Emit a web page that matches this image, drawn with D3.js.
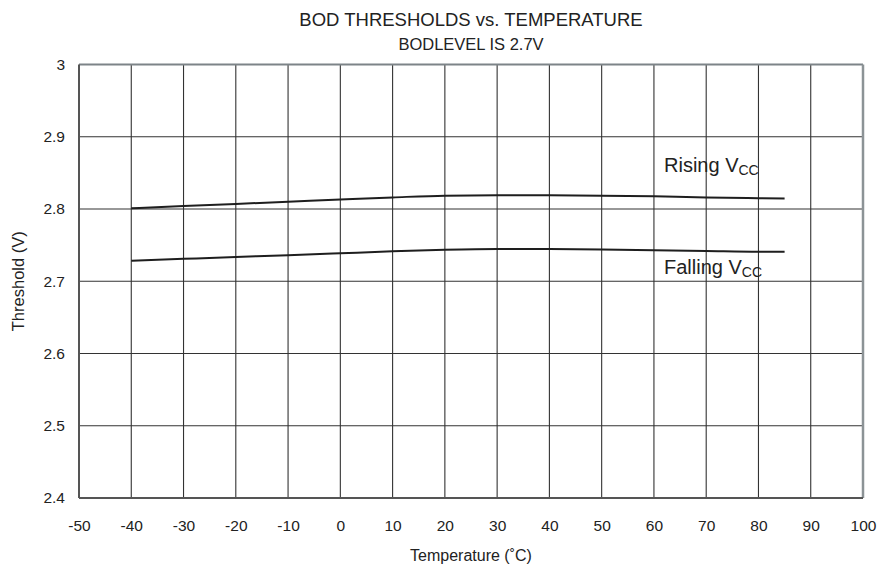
<!DOCTYPE html>
<html>
<head>
<meta charset="utf-8">
<script src="https://cdn.jsdelivr.net/npm/d3@7"></script>
<style>
  body { margin: 0; background: #fff; }
  text { font-family: "Liberation Sans", Arial, sans-serif; fill: #222; }
</style>
</head>
<body>
<div id="chart"></div>
<script>
/////////////////////////////////////
//////////////// Data ///////////////
/////////////////////////////////////

var temps = [-40, -30, -20, -10, 0, 10, 20, 30, 40, 50, 60, 70, 80, 85];
var rising = [2.801, 2.804, 2.807, 2.810, 2.813, 2.816, 2.8185, 2.819, 2.819, 2.8185, 2.8175, 2.816, 2.815, 2.8147];
var falling = [2.7285, 2.731, 2.7336, 2.736, 2.7387, 2.7415, 2.7435, 2.7445, 2.7445, 2.744, 2.743, 2.742, 2.741, 2.741];
var xTicks = [-50, -40, -30, -20, -10, 0, 10, 20, 30, 40, 50, 60, 70, 80, 90, 100];
var yTicks = [2.4, 2.5, 2.6, 2.7, 2.8, 2.9, 3];

var margin = {top: 64.5, right: 22, bottom: 71, left: 79},
    width = 885 - margin.left - margin.right,
    height = 569 - margin.top - margin.bottom;

var svg = d3.select("#chart")
    .append("svg")
      .attr("width", 885)
      .attr("height", 569)
    .append("g")
      .attr("transform", "translate(" + margin.left + "," + margin.top + ")");

var x = d3.scaleLinear().domain([-50, 100]).range([0, width]);
var y = d3.scaleLinear().domain([2.4, 3]).range([height, 0]);

// grid
svg.selectAll("vgrid")
    .data(xTicks.slice(1, -1))
    .enter()
    .append("line")
      .attr("x1", function(d) { return x(d); })
      .attr("x2", function(d) { return x(d); })
      .attr("y1", 0)
      .attr("y2", height)
      .attr("stroke", "#333")
      .attr("stroke-width", 1.1);

svg.selectAll("hgrid")
    .data(yTicks.slice(1, -1))
    .enter()
    .append("line")
      .attr("x1", 0)
      .attr("x2", width)
      .attr("y1", function(d) { return y(d); })
      .attr("y2", function(d) { return y(d); })
      .attr("stroke", "#333")
      .attr("stroke-width", 1.1);

// frame
svg.append("line").attr("x1", 0).attr("x2", width).attr("y1", 0).attr("y2", 0)
    .attr("stroke", "#7d8488").attr("stroke-width", 2);
svg.append("line").attr("x1", width).attr("x2", width).attr("y1", 0).attr("y2", height)
    .attr("stroke", "#8c9396").attr("stroke-width", 2.5);
svg.append("line").attr("x1", 0).attr("x2", 0).attr("y1", 0).attr("y2", height)
    .attr("stroke", "#555").attr("stroke-width", 2);
svg.append("line").attr("x1", 0).attr("x2", width).attr("y1", height).attr("y2", height)
    .attr("stroke", "#555").attr("stroke-width", 2);

// axes (labels only)
svg.append("g")
    .attr("transform", "translate(0," + height + ")")
    .call(d3.axisBottom(x).tickValues(xTicks).tickSize(0).tickPadding(22)
        .tickFormat(function(d) { return String(d); }))
    .call(function(g) { g.select(".domain").remove(); })
    .selectAll("text")
      .style("font-size", "15.5px")
      .style("font-family", "'Liberation Sans', Arial, sans-serif")
      .attr("fill", "#222");

svg.append("g")
    .call(d3.axisLeft(y).tickValues(yTicks).tickSize(0).tickPadding(14)
        .tickFormat(function(d) { return String(+d.toFixed(1)); }))
    .call(function(g) { g.select(".domain").remove(); })
    .selectAll("text")
      .style("font-size", "15.5px")
      .style("font-family", "'Liberation Sans', Arial, sans-serif")
      .attr("fill", "#222");

// curves
var line = d3.line()
    .x(function(d, i) { return x(temps[i]); })
    .y(function(d) { return y(d); })
    .curve(d3.curveMonotoneX);

svg.append("path")
    .datum(rising)
    .attr("d", line)
    .attr("fill", "none")
    .attr("stroke", "#1e1e1e")
    .attr("stroke-width", 2);

svg.append("path")
    .datum(falling)
    .attr("d", line)
    .attr("fill", "none")
    .attr("stroke", "#1e1e1e")
    .attr("stroke-width", 2);

// curve labels
var rLab = svg.append("text")
    .attr("x", 585)
    .attr("y", 107)
    .style("font-size", "20px");
rLab.append("tspan").text("Rising V");
rLab.append("tspan").attr("dy", 3).style("font-size", "14px").text("CC");

var fLab = svg.append("text")
    .attr("x", 585)
    .attr("y", 209.5)
    .style("font-size", "20px");
fLab.append("tspan").text("Falling V");
fLab.append("tspan").attr("dy", 3).style("font-size", "14px").text("CC");

// titles
var root = d3.select("#chart svg");
root.append("text")
    .attr("x", 471).attr("y", 26)
    .attr("text-anchor", "middle")
    .style("font-size", "18.5px")
    .text("BOD THRESHOLDS vs. TEMPERATURE");

root.append("text")
    .attr("x", 471).attr("y", 50)
    .attr("text-anchor", "middle")
    .style("font-size", "16.5px")
    .text("BODLEVEL IS 2.7V");

root.append("text")
    .attr("x", 471).attr("y", 561)
    .attr("text-anchor", "middle")
    .style("font-size", "16px")
    .text("Temperature (˚C)");

root.append("text")
    .attr("transform", "translate(24," + (margin.top + height / 2) + ") rotate(-90)")
    .attr("text-anchor", "middle")
    .style("font-size", "16.5px")
    .text("Threshold (V)");
</script>
</body>
</html>
